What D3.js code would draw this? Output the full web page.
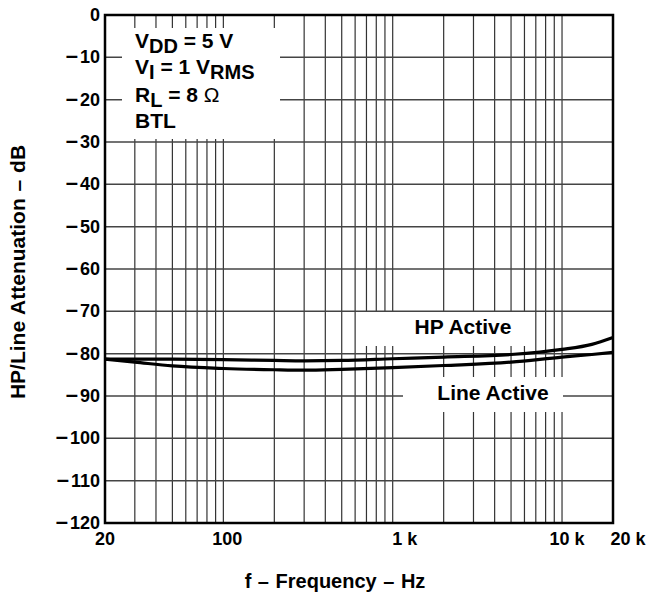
<!DOCTYPE html>
<html>
<head>
<meta charset="utf-8">
<script src="https://cdn.jsdelivr.net/npm/d3@7"></script>
<style>
  body { margin: 0; background: #fff; }
  svg { font-family: "Liberation Sans", Arial, sans-serif; font-weight: bold; }
</style>
</head>
<body>
<svg id="chart" width="659" height="596"></svg>
<script>
// frequencies (Hz) where the curves were read
var freqs = [20, 30, 50, 100, 200, 300, 500, 1000, 2000, 5000, 10000, 15000, 20000];
var hpActive = [-81.3, -81.3, -81.3, -81.4, -81.6, -81.7, -81.6, -81.2, -80.8, -80.2, -79.0, -77.8, -76.2];
var lineActive = [-81.3, -82.0, -82.9, -83.5, -83.8, -83.9, -83.7, -83.3, -82.8, -82.0, -80.8, -80.2, -79.7];

var xTicks = [20, 100, 1000, 10000, 20000];
var xTickLabels = ["20", "100", "1 k", "10 k", "20 k"];
var yTicks = [0, -10, -20, -30, -40, -50, -60, -70, -80, -90, -100, -110, -120];

var margin = { top: 15, right: 46, bottom: 73, left: 105 };
var width = 659 - margin.left - margin.right;
var height = 596 - margin.top - margin.bottom;

var x = d3.scaleLog().domain([20, 20000]).range([0, width]);
var y = d3.scaleLinear().domain([-120, 0]).range([height, 0]);

var svg = d3.select("#chart")
  .append("g")
  .attr("transform", "translate(" + margin.left + "," + margin.top + ")");

// vertical grid: every 1-9 step in each decade
var gridX = [];
[10, 100, 1000, 10000].forEach(function(dec) {
  for (var k = 1; k <= 9; k++) {
    var f = dec * k;
    if (f > 20 && f < 20000) gridX.push(f);
  }
});

svg.selectAll(".vgrid")
  .data(gridX)
  .enter().append("line")
  .attr("class", "vgrid")
  .attr("x1", function(d) { return x(d); })
  .attr("x2", function(d) { return x(d); })
  .attr("y1", 0)
  .attr("y2", height)
  .attr("stroke", "#333")
  .attr("stroke-width", 1.2);

svg.selectAll(".hgrid")
  .data(yTicks.slice(1, -1))
  .enter().append("line")
  .attr("class", "hgrid")
  .attr("x1", 0)
  .attr("x2", width)
  .attr("y1", function(d) { return y(d); })
  .attr("y2", function(d) { return y(d); })
  .attr("stroke", "#444")
  .attr("stroke-width", 1.5);

// white boxes behind the annotations
var boxes = [
  { x0: 17, y0: 13, x1: 175, y1: 124 },
  { x0: 258, y0: 297, x1: 422, y1: 331 },
  { x0: 298, y0: 362, x1: 458, y1: 397 }
];
svg.selectAll(".box")
  .data(boxes)
  .enter().append("rect")
  .attr("x", function(d) { return d.x0; })
  .attr("y", function(d) { return d.y0; })
  .attr("width", function(d) { return d.x1 - d.x0; })
  .attr("height", function(d) { return d.y1 - d.y0; })
  .attr("fill", "#fff");

// frame
svg.append("rect")
  .attr("width", width)
  .attr("height", height)
  .attr("fill", "none")
  .attr("stroke", "#000")
  .attr("stroke-width", 2.5);

// curves
var line = d3.line()
  .x(function(d) { return x(d[0]); })
  .y(function(d) { return y(d[1]); })
  .curve(d3.curveMonotoneX);

[hpActive, lineActive].forEach(function(series) {
  svg.append("path")
    .datum(freqs.map(function(f, i) { return [f, series[i]]; }))
    .attr("d", line)
    .attr("fill", "none")
    .attr("stroke", "#000")
    .attr("stroke-width", 3.2);
});

// axes labels
var ylab = svg.selectAll(".ylab")
  .data(yTicks)
  .enter().append("text")
  .attr("class", "ylab")
  .attr("x", -5)
  .attr("y", function(d) { return y(d) + 6; })
  .attr("text-anchor", "end")
  .style("font-size", "18px");
ylab.filter(function(d) { return d < 0; })
  .append("tspan")
  .style("font-size", "22px")
  .text("\u2013");
ylab.append("tspan")
  .attr("dx", function(d) { return d < 0 ? 2 : 0; })
  .text(function(d) { return Math.abs(d); });

var xLabelShift = [0, 4, 12, 5, 15];
svg.selectAll(".xlab")
  .data(xTicks)
  .enter().append("text")
  .attr("x", function(d, i) { return x(d) + xLabelShift[i]; })
  .attr("y", height + 22)
  .attr("text-anchor", "middle")
  .style("font-size", "18px")
  .text(function(d, i) { return xTickLabels[i]; });

svg.append("text")
  .attr("x", 335 - margin.left)
  .attr("y", height + 65)
  .attr("text-anchor", "middle")
  .style("font-size", "20px")
  .style("word-spacing", "1px")
  .text("f \u2013 Frequency \u2013 Hz");

svg.append("text")
  .attr("transform", "translate(-80," + (272 - margin.top) + ") rotate(-90)")
  .attr("text-anchor", "middle")
  .style("font-size", "21px")
  .style("word-spacing", "1px")
  .text("HP/Line Attenuation \u2013 dB");

// conditions block
var cond = svg.append("g").style("font-size", "21px");
function sub(t, s) {
  t.append("tspan").attr("dy", 5).style("font-size", "20px").text(s);
}
var t1 = cond.append("text").attr("x", 30).attr("y", 33);
t1.append("tspan").text("V");
sub(t1, "DD");
t1.append("tspan").attr("dy", -5).text(" = 5 V");
var t2 = cond.append("text").attr("x", 30).attr("y", 59);
t2.append("tspan").text("V");
sub(t2, "I");
t2.append("tspan").attr("dy", -5).text(" = 1 V");
sub(t2, "RMS");
var t3 = cond.append("text").attr("x", 30).attr("y", 87);
t3.append("tspan").text("R");
sub(t3, "L");
t3.append("tspan").attr("dy", -5).text(" = 8 ");
t3.append("tspan").style("font-weight", "normal").text("\u03A9");
cond.append("text").attr("x", 30).attr("y", 113).text("BTL");

svg.append("text")
  .attr("x", 463 - margin.left).attr("y", 334 - margin.top)
  .attr("text-anchor", "middle")
  .style("font-size", "21px")
  .text("HP Active");
svg.append("text")
  .attr("x", 493 - margin.left).attr("y", 400 - margin.top)
  .attr("text-anchor", "middle")
  .style("font-size", "21px")
  .text("Line Active");
</script>
</body>
</html>
